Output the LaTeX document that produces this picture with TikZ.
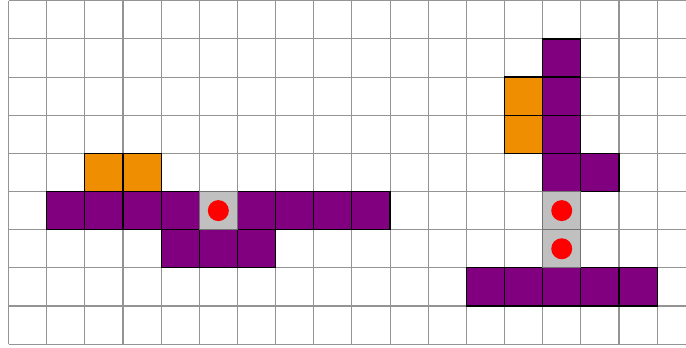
\documentclass[tikz,border=0pt]{standalone}
\definecolor{blockpurple}{HTML}{800080}
\definecolor{blockorange}{HTML}{EE8E00}
\definecolor{holegray}{HTML}{C0C0C0}
\tikzset{
  cell/.style={draw=black,line width=0.9pt,minimum size=1cm,inner sep=0pt,outer sep=0pt},
  pcell/.style={cell,fill=blockpurple},
  ocell/.style={cell,fill=blockorange},
  gcell/.style={cell,draw=black!55,fill=holegray},
  dot/.style={circle,fill=red,minimum size=0.55cm,inner sep=0pt}
}
\begin{document}
\begin{tikzpicture}
  \useasboundingbox (-0.223,-9.076) rectangle (17.757,0.02);
  % background grid
  \draw[black!42,line width=0.8pt] (0,-9) grid (17.757,0);
  % left shape
  \foreach \c in {1,2,3,4,6,7,8,9} \node[pcell] (pl\c) at (\c+0.5,-5.5) {};
  \foreach \c in {4,5,6} \node[pcell] (pb\c) at (\c+0.5,-6.5) {};
  \foreach \c in {2,3} \node[ocell] (ol\c) at (\c+0.5,-4.5) {};
  \node[gcell] (gl) at (5.5,-5.5) {};
  \node[dot] (dl) at (gl.center) {};
  % right shape
  \foreach \r in {1,...,4} \node[pcell] (pv\r) at (14.5,-\r-0.5) {};
  \node[pcell] (pr) at (15.5,-4.5) {};
  \foreach \r in {2,3} \node[ocell] (or\r) at (13.5,-\r-0.5) {};
  \foreach \c in {12,...,16} \node[pcell] (ph\c) at (\c+0.5,-7.5) {};
  \foreach \r in {5,6} {
    \node[gcell] (gr\r) at (14.5,-\r-0.5) {};
    \node[dot] (dr\r) at (gr\r.center) {};
  }
\end{tikzpicture}
\end{document}
